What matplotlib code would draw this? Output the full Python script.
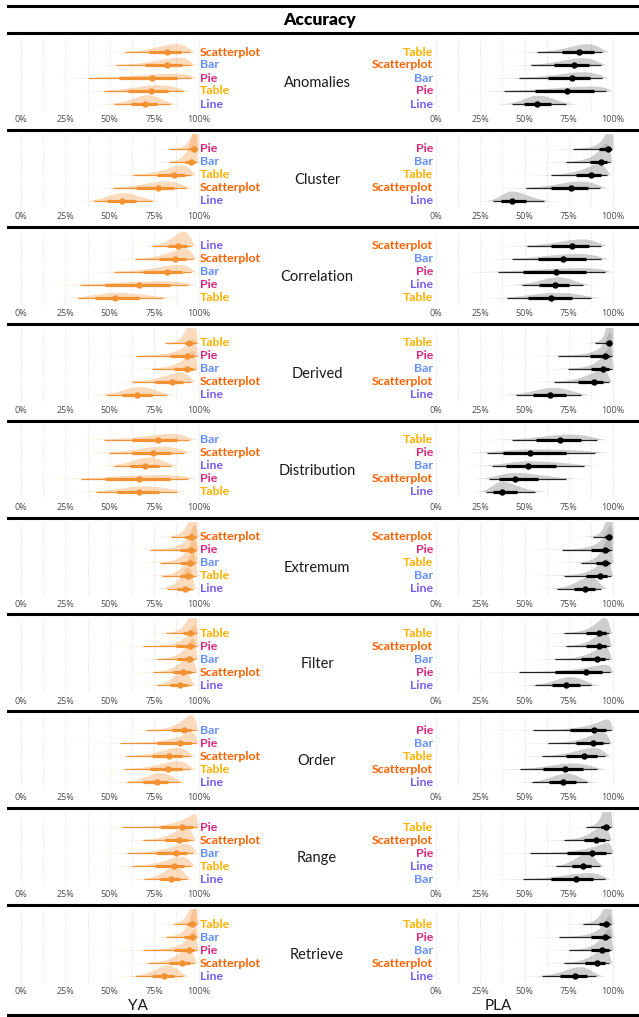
import numpy as np
import matplotlib
matplotlib.use("Agg")
import matplotlib.pyplot as plt
from matplotlib.lines import Line2D

W, H = 639, 1017

TASKS = ["Anomalies", "Cluster", "Correlation", "Derived", "Distribution",
         "Extremum", "Filter", "Order", "Range", "Retrieve"]

CHART_COLORS = {
    "Scatterplot": "#FE6100",
    "Bar": "#648FFF",
    "Pie": "#DC267F",
    "Table": "#FFB000",
    "Line": "#785EF0",
}

# ---- YA (younger adults): rows top to bottom, values in % ----
YA_ORDER = {
    "Anomalies": ["Scatterplot", "Bar", "Pie", "Table", "Line"],
    "Cluster": ["Pie", "Bar", "Table", "Scatterplot", "Line"],
    "Correlation": ["Line", "Scatterplot", "Bar", "Pie", "Table"],
    "Derived": ["Table", "Pie", "Bar", "Scatterplot", "Line"],
    "Distribution": ["Bar", "Scatterplot", "Line", "Pie", "Table"],
    "Extremum": ["Scatterplot", "Pie", "Bar", "Table", "Line"],
    "Filter": ["Table", "Pie", "Bar", "Scatterplot", "Line"],
    "Order": ["Bar", "Pie", "Scatterplot", "Table", "Line"],
    "Range": ["Pie", "Scatterplot", "Bar", "Table", "Line"],
    "Retrieve": ["Table", "Bar", "Pie", "Scatterplot", "Line"],
}
YA_MED = {
    "Anomalies": [82, 82, 74, 73, 70],
    "Cluster": [97.7, 96, 86, 77, 57],
    "Correlation": [88.7, 87, 82, 66.7, 53],
    "Derived": [94.7, 93.4, 93.4, 85.3, 65.2],
    "Distribution": [77.4, 74.6, 70, 66.7, 66.5],
    "Extremum": [95.9, 95.7, 95, 94, 92.5],
    "Filter": [95.3, 95, 94.4, 91.5, 89.3],
    "Order": [92, 89.7, 83.6, 83, 76.5],
    "Range": [90.6, 89, 87.2, 86, 84.6],
    "Retrieve": [96.6, 96.2, 94.7, 90.6, 80.6],
}
YA_LO66 = {
    "Anomalies": [72, 70, 55, 60.5, 62],
    "Cluster": [95, 92.5, 76.5, 65, 48.7],
    "Correlation": [83, 78, 69, 47.4, 41.7],
    "Derived": [92.5, 84, 86, 75.6, 56.8],
    "Distribution": [62.4, 62.4, 61.5, 47.4, 54],
    "Extremum": [92.5, 89.7, 89.7, 89.3, 87.8],
    "Filter": [91, 87.2, 88, 85.5, 84],
    "Order": [85, 76.5, 73.7, 72.7, 69],
    "Range": [78.4, 81.2, 76, 75.6, 78.4],
    "Retrieve": [93.4, 92, 86, 83.6, 73.7],
}
YA_HI66 = {
    "Anomalies": [90, 90.6, 88, 83, 76.5],
    "Cluster": [99.2, 98, 92.5, 86, 65],
    "Correlation": [93.4, 93, 90.6, 84, 66.7],
    "Derived": [97, 97, 96.8, 91.5, 73.7],
    "Distribution": [87.8, 84.6, 78, 84, 78],
    "Extremum": [98, 98, 97.7, 97, 95.3],
    "Filter": [97.6, 97.7, 97, 95.7, 93.4],
    "Order": [96, 95.7, 90.6, 90.6, 83],
    "Range": [96.8, 94, 93.8, 92, 89.7],
    "Retrieve": [98.2, 98, 97.6, 95, 86.3],
}
YA_LO95 = {
    "Anomalies": [58.6, 53.6, 38, 47, 52.6],
    "Cluster": [83.6, 83.6, 63, 52, 41],
    "Correlation": [74, 64, 52.4, 33, 32],
    "Derived": [81, 65, 73.7, 62.4, 48],
    "Distribution": [46.8, 49.8, 52.4, 33.8, 42.3],
    "Extremum": [84.4, 72.7, 78.4, 79.3, 82],
    "Filter": [81.8, 69, 76.5, 74.6, 76.9],
    "Order": [70.5, 55.5, 59.2, 58, 59.6],
    "Range": [56.8, 69, 59.6, 62.8, 69.4],
    "Retrieve": [86, 81.8, 68.6, 71.8, 64],
}
YA_HI95 = {
    "Anomalies": [95, 95.7, 95.7, 91, 84],
    "Cluster": [99.6, 99, 96, 92.7, 74],
    "Correlation": [96, 97, 96, 94, 80],
    "Derived": [99, 99, 98.7, 96, 81.6],
    "Distribution": [94.7, 92, 84.4, 94, 88],
    "Extremum": [99, 99, 98.8, 98.7, 97],
    "Filter": [99, 99, 98.7, 98, 96],
    "Order": [98.7, 98.5, 95.3, 95.3, 89.3],
    "Range": [99, 96.8, 97, 96, 93.4],
    "Retrieve": [99.2, 99, 99, 97.6, 91.5],
}

# ---- PLA (older adults) ----
PLA_ORDER = {
    "Anomalies": ["Table", "Scatterplot", "Bar", "Pie", "Line"],
    "Cluster": ["Pie", "Bar", "Table", "Scatterplot", "Line"],
    "Correlation": ["Scatterplot", "Bar", "Pie", "Line", "Table"],
    "Derived": ["Table", "Pie", "Bar", "Scatterplot", "Line"],
    "Distribution": ["Table", "Pie", "Bar", "Scatterplot", "Line"],
    "Extremum": ["Scatterplot", "Pie", "Table", "Bar", "Line"],
    "Filter": ["Table", "Scatterplot", "Bar", "Pie", "Line"],
    "Order": ["Pie", "Bar", "Table", "Scatterplot", "Line"],
    "Range": ["Table", "Scatterplot", "Pie", "Line", "Bar"],
    "Retrieve": ["Table", "Pie", "Bar", "Scatterplot", "Line"],
}
PLA_MED = {
    "Anomalies": [81, 77.8, 77, 74, 57],
    "Cluster": [97, 93.4, 87.8, 76.5, 43],
    "Correlation": [77, 72, 68, 67, 64.7],
    "Derived": [98, 95.7, 94.4, 89, 64.3],
    "Distribution": [70, 53, 52, 44.5, 37.4],
    "Extremum": [97.6, 95.3, 95.3, 92.5, 84.4],
    "Filter": [92, 92, 91, 84.6, 73.7],
    "Order": [89.3, 88.7, 83.6, 72.7, 71.8],
    "Range": [95.9, 90.6, 88.3, 83, 79],
    "Retrieve": [95.9, 95.3, 94, 91, 78.4],
}
PLA_LO66 = {
    "Anomalies": [71, 66.5, 63, 56, 49.6],
    "Cluster": [92, 87, 79, 65, 37],
    "Correlation": [65, 57.7, 49, 58, 52],
    "Derived": [96, 86.8, 87.8, 80.3, 55],
    "Distribution": [56.4, 37.6, 39.8, 35.7, 32],
    "Extremum": [95.3, 87.8, 90.6, 85, 77.8],
    "Filter": [85, 85, 82, 67, 65.6],
    "Order": [75.6, 79.3, 73.7, 60.5, 64],
    "Range": [93.4, 83.6, 74.2, 76.9, 65.2],
    "Retrieve": [92, 87.8, 87.8, 84, 70.3],
}
PLA_HI66 = {
    "Anomalies": [89, 86.5, 87, 89, 65],
    "Cluster": [98.7, 96.6, 93.4, 86, 50.8],
    "Correlation": [86.5, 84.6, 85, 75, 77],
    "Derived": [99, 98, 97.7, 94.4, 73.7],
    "Distribution": [82, 73.7, 67.7, 57.7, 45.5],
    "Extremum": [98.8, 98, 98, 96.6, 89.7],
    "Filter": [95.9, 95.9, 95.7, 94, 81.2],
    "Order": [95.9, 94.4, 91, 83, 79],
    "Range": [97.7, 95.3, 95.9, 87.8, 88.7],
    "Retrieve": [98, 98, 97.6, 95.7, 85.5],
}
PLA_LO95 = {
    "Anomalies": [57, 53.6, 47, 38.5, 42.7],
    "Cluster": [77.4, 73.3, 65, 50.8, 32.3],
    "Correlation": [51.5, 42.7, 34.8, 48.7, 40],
    "Derived": [90, 69, 74.6, 66.7, 45],
    "Distribution": [42.7, 29, 31.4, 30, 28.2],
    "Extremum": [88.7, 71.4, 82, 72.2, 68.6],
    "Filter": [72.4, 73.7, 67, 46.8, 55.8],
    "Order": [54.9, 63.3, 60, 47.4, 54.5],
    "Range": [84.6, 72.4, 53, 68, 49.2],
    "Retrieve": [83, 69.5, 75.2, 72.2, 60],
}
PLA_HI95 = {
    "Anomalies": [94, 93, 94, 96, 73.7],
    "Cluster": [99.4, 98.5, 96.6, 92.9, 61],
    "Correlation": [93, 93.4, 95.3, 83, 87.8],
    "Derived": [99.5, 99.4, 99.2, 97.6, 82],
    "Distribution": [91, 90, 83.5, 73.3, 56.2],
    "Extremum": [99.4, 99.4, 99, 98.7, 93.4],
    "Filter": [98, 98, 98, 98.5, 87.8],
    "Order": [98.7, 97.6, 95.7, 91, 85.5],
    "Range": [99, 97.7, 98.7, 92.5, 95.3],
    "Retrieve": [99, 99, 99, 98, 90.6],
}

TICKS = [0, 0.25, 0.5, 0.75, 1.0]
TICK_LABELS = ["0%", "25%", "50%", "75%", "100%"]

YA_STYLE = dict(slab="#F39232", slab_alpha=0.32, thin="#F39232", thick="#F39232", point="#F39232")
PLA_STYLE = dict(slab="#9E9E9E", slab_alpha=0.5, thin="#222222", thick="#000000", point="#000000")

ROW_H = 96.9
ROW0 = 33.0
DENS_SCALE = 0.14   # rows per unit of density


def fx(px):
    return px / W


def fy(py):
    return 1 - py / H


def logit(p):
    p = np.clip(p, 1e-4, 0.9965)
    return np.log(p / (1 - p))


def slab_density(grid, med, lo66, hi66, lo95, hi95):
    # split normal on the logit scale, widths taken from the read intervals
    m = logit(med)
    sd_lo = 0.5 * ((m - logit(lo66)) / 0.954 + (m - logit(lo95)) / 1.96)
    sd_hi = 0.5 * ((logit(hi66) - m) / 0.954 + (logit(hi95) - m) / 1.96)
    z = logit(grid)
    sd = np.where(z < m, sd_lo, sd_hi)
    g = 2 / (np.sqrt(2 * np.pi) * (sd_lo + sd_hi)) * np.exp(-0.5 * ((z - m) / sd) ** 2)
    return g / (grid * (1 - grid))


def draw_panel(ax, task, order, med, lo66, hi66, lo95, hi95, style, label_side):
    grid = np.linspace(0.001, 0.999, 800)
    for j, chart in enumerate(order[task]):
        vals = [v / 100 for v in (med[task][j], lo66[task][j], hi66[task][j],
                                  lo95[task][j], hi95[task][j])]
        dens = slab_density(grid, *vals)
        ax.fill_between(grid, j, j - DENS_SCALE * dens, color=style["slab"],
                        alpha=style["slab_alpha"], linewidth=0, zorder=2)
        ax.plot([vals[3], vals[4]], [j, j], color=style["thin"], lw=0.9,
                solid_capstyle="butt", zorder=3)
        ax.plot([vals[1], vals[2]], [j, j], color=style["thick"], lw=2.3,
                solid_capstyle="butt", zorder=4)
        ax.plot([vals[0]], [j], "o", color=style["point"], ms=4.6, mew=0, zorder=5)
        if label_side == "right":
            ax.text(1.008, j, chart, ha="left", va="center", color=CHART_COLORS[chart],
                    fontsize=8.9, fontweight="bold", family="Lato", clip_on=False)
        else:
            ax.text(-0.017, j, chart, ha="right", va="center", color=CHART_COLORS[chart],
                    fontsize=8.9, fontweight="bold", family="Lato", clip_on=False)

    ax.set_xticks(TICKS)
    ax.set_xticklabels(TICK_LABELS)
    ax.set_xticks(np.arange(0.125, 1.0, 0.25), minor=True)
    ax.grid(which="both", axis="x", color="#E4E4E4", lw=0.6, ls=(0, (2, 1.5)), zorder=0)
    ax.tick_params(axis="x", which="both", length=0, pad=3.0, labelsize=6.5,
                   labelcolor="#4D4D4D")
    for lab in ax.get_xticklabels():
        lab.set_family("Open Sans")
    ax.set_yticks([])
    for sp in ax.spines.values():
        sp.set_visible(False)
    ax.patch.set_alpha(0)


fig = plt.figure(figsize=(W / 100, H / 100), dpi=100)

# title strip
for yy in (5.5, ROW0):
    fig.add_artist(Line2D([fx(8), 1], [fy(yy), fy(yy)], color="black", lw=2.2))
fig.text(fx(320), fy(19.5), "Accuracy", ha="center", va="center", fontsize=12.5,
         fontweight="heavy", family="Lato")

for i, task in enumerate(TASKS):
    top = ROW0 + ROW_H * i
    y0, y1 = top + 4, top + 78
    ylim = ((78 - 19) / 13, (4 - 19) / 13)

    # left panel (YA): 0% at x=21, 100% at x=198.5
    lx0, lx1 = 12, 199.5
    axl = fig.add_axes([fx(lx0), fy(y1), (lx1 - lx0) / W, (y1 - y0) / H])
    axl.set_xlim((lx0 - 21) / 177.5, (lx1 - 21) / 177.5)
    axl.set_ylim(*ylim)
    draw_panel(axl, task, YA_ORDER, YA_MED, YA_LO66, YA_HI66, YA_LO95, YA_HI95,
               YA_STYLE, "right")

    # right panel (PLA): 0% at x=436, 100% at x=613
    rx0, rx1 = 434, 636
    axr = fig.add_axes([fx(rx0), fy(y1), (rx1 - rx0) / W, (y1 - y0) / H])
    axr.set_xlim((rx0 - 436) / 177, (rx1 - 436) / 177)
    axr.set_ylim(*ylim)
    draw_panel(axr, task, PLA_ORDER, PLA_MED, PLA_LO66, PLA_HI66, PLA_LO95, PLA_HI95,
               PLA_STYLE, "left")

    fig.text(fx(317), fy(top + 50), task, ha="center", va="center", fontsize=10.5,
             family="Lato", color="#1A1A1A")

    if i > 0:
        fig.add_artist(Line2D([fx(8), 1], [fy(top), fy(top)], color="black", lw=2.2))

fig.text(fx(138), fy(1006), "YA", ha="center", va="center", fontsize=11,
         family="Lato", color="#1A1A1A")
fig.text(fx(498), fy(1006), "PLA", ha="center", va="center", fontsize=11,
         family="Lato", color="#1A1A1A")
fig.add_artist(Line2D([fx(8), 1], [fy(1015), fy(1015)], color="black", lw=2.2))

fig.savefig("out.png", dpi=100)
